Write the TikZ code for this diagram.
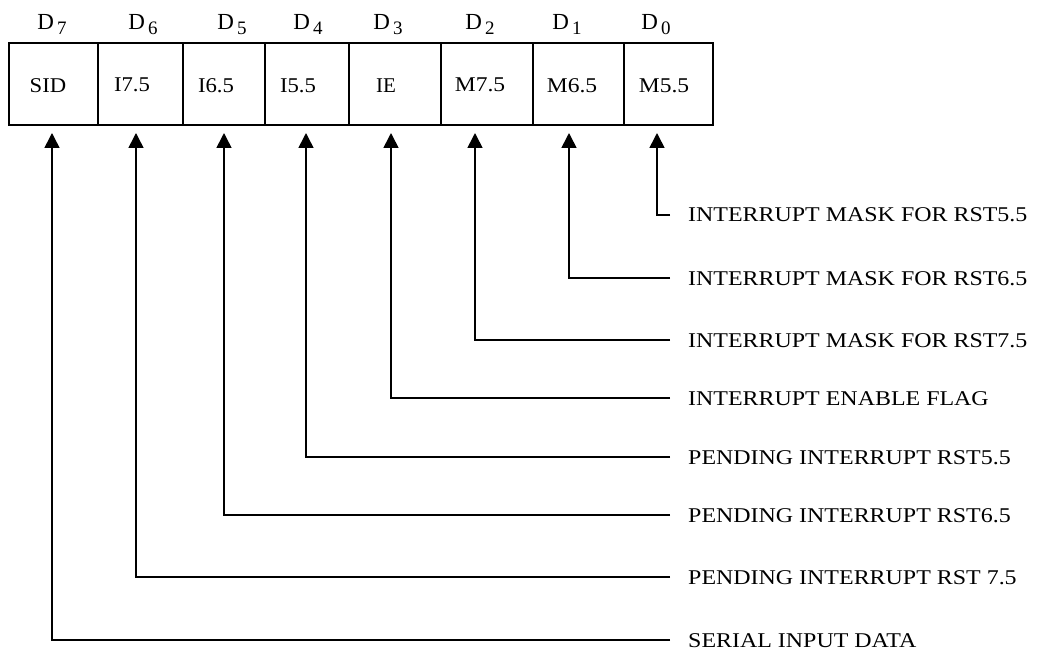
\documentclass[tikz,border=0pt]{standalone}
\usepackage{fontspec}
\setmainfont{Liberation Serif}
\usetikzlibrary{arrows.meta}
\tikzset{
  cellbox/.style={draw, line width=1.6pt, minimum height=82pt, inner sep=0pt, anchor=north west},
  celltext/.style={anchor=base, inner sep=0pt, font=\fontsize{21}{24}\selectfont},
  bitlbl/.style={anchor=base, inner sep=0pt, font=\fontsize{23}{24}\selectfont},
  desc/.style={anchor=base west, inner sep=0pt, font=\fontsize{21}{24}\selectfont},
  conn/.style={line width=1.6pt, shorten <=18pt, -{Triangle[length=15pt,width=15pt]}}
}
\newcommand{\bitD}[1]{D\kern3pt\raisebox{-5pt}{\fontsize{19}{20}\selectfont #1}}
\newcommand{\wide}[1]{\scalebox{1.14}[1]{#1}}
\begin{document}
\begin{tikzpicture}[x=1pt,y=-1pt]
\useasboundingbox (0,0) rectangle (1037,650);
% register cells
\node[cellbox, minimum width=89pt] (b7) at (8,42) {};
\node[cellbox, minimum width=85pt] (b6) at (97,42) {};
\node[cellbox, minimum width=82pt] (b5) at (182,42) {};
\node[cellbox, minimum width=84pt] (b4) at (264,42) {};
\node[cellbox, minimum width=92pt] (b3) at (348,42) {};
\node[cellbox, minimum width=92pt] (b2) at (440,42) {};
\node[cellbox, minimum width=91pt] (b1) at (532,42) {};
\node[cellbox, minimum width=89pt] (b0) at (623,42) {};
% cell texts
\node[celltext] (c7) at (48,93) {\scalebox{1.08}[1]{SID}};
\node[celltext] (c6) at (132,92) {\scalebox{1.08}[1]{I7.5}};
\node[celltext] (c5) at (216,93) {\scalebox{1.08}[1]{I6.5}};
\node[celltext] (c4) at (298,93) {\scalebox{1.08}[1]{I5.5}};
\node[celltext] (c3) at (386,93) {IE};
\node[celltext] (c2) at (480,92) {\scalebox{1.12}[1]{M7.5}};
\node[celltext] (c1) at (572,93) {\scalebox{1.12}[1]{M6.5}};
\node[celltext] (c0) at (664,93) {\scalebox{1.12}[1]{M5.5}};
% bit labels
\node[bitlbl] (d7) at (52,30) {\bitD{7}};
\node[bitlbl] (d6) at (143,30) {\bitD{6}};
\node[bitlbl] (d5) at (232,30) {\bitD{5}};
\node[bitlbl] (d4) at (308,30) {\bitD{4}};
\node[bitlbl] (d3) at (388,30) {\bitD{3}};
\node[bitlbl] (d2) at (480,30) {\bitD{2}};
\node[bitlbl] (d1) at (567,30) {\bitD{1}};
\node[bitlbl] (d0) at (656,30) {\bitD{0}};
% arrow tips
\coordinate (t7) at (52,133);
\coordinate (t6) at (136,133);
\coordinate (t5) at (224,133);
\coordinate (t4) at (306,133);
\coordinate (t3) at (391,133);
\coordinate (t2) at (475,133);
\coordinate (t1) at (569,133);
\coordinate (t0) at (657,133);
% descriptions
\node[desc] (n0) at (688,222) {\wide{INTERRUPT MASK FOR RST5.5}};
\node[desc] (n1) at (688,285) {\wide{INTERRUPT MASK FOR RST6.5}};
\node[desc] (n2) at (688,347) {\wide{INTERRUPT MASK FOR RST7.5}};
\node[desc] (n3) at (688,405) {\wide{INTERRUPT ENABLE FLAG}};
\node[desc] (n4) at (688,464) {\wide{PENDING INTERRUPT RST5.5}};
\node[desc] (n5) at (688,522) {\wide{PENDING INTERRUPT RST6.5}};
\node[desc] (n6) at (688,584) {\wide{PENDING INTERRUPT RST 7.5}};
\node[desc] (n7) at (688,647) {\wide{SERIAL INPUT DATA}};
% connectors
\foreach \i/\y in {0/215,1/278,2/340,3/398,4/457,5/515,6/577,7/640}{
  \draw[conn] (688,\y) -| (t\i);
}
\end{tikzpicture}
\end{document}
